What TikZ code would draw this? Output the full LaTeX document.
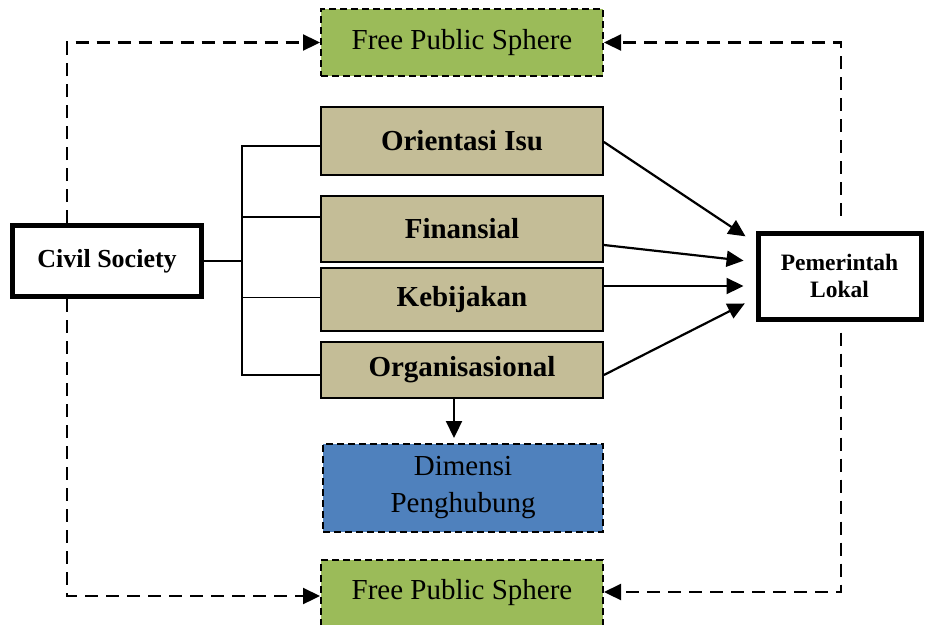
\documentclass[tikz,border=0pt]{standalone}
\usepackage{fontspec}
\setmainfont{Liberation Serif}
\usepackage{tikz}
\usetikzlibrary{arrows.meta}
\definecolor{spheregreen}{RGB}{155, 187, 89}
\definecolor{dimtan}{RGB}{196, 189, 151}
\definecolor{linkblue}{RGB}{79, 129, 189}
\tikzset{
	dimbox/.style={rectangle, fill=dimtan, draw=black, line width=1.8pt, minimum width=282pt, font=\fontsize{29}{33}\selectfont\bfseries},
	spherebox/.style={rectangle, fill=spheregreen, draw=black, line width=2pt, dash pattern=on 7pt off 4pt, minimum width=282pt, font=\fontsize{29}{33}\selectfont},
	actorbox/.style={rectangle, fill=white, draw=black, line width=5pt},
	arrowline/.style={-{Triangle[length=17pt, width=16pt]}, line width=2.2pt},
	dashlink/.style={-{Triangle[length=17pt, width=16pt]}, line width=2.3pt, dash pattern=on 13pt off 8pt}
}

\begin{document}
\begin{tikzpicture}[x=1pt, y=-1pt]
					\useasboundingbox (0,0) rectangle (925,624);
					\node[spherebox, minimum height=67pt] (sphTop) at (462,42.5) {Free Public Sphere};
					\node[dimbox, minimum height=68pt] (isu) at (462,141) {Orientasi Isu};
					\node[dimbox, minimum height=66pt] (dana) at (462,229) {Finansial};
					\node[dimbox, minimum height=63pt] (kebijakan) at (462,299.5) {Kebijakan};
					\node[dimbox, minimum height=56pt] (organisasi) at (462,370) {Organisasional};
					\node[spherebox, fill=linkblue, minimum width=280pt, minimum height=88pt, align=center, font=\fontsize{29}{37}\selectfont] (dimensi) at (463,488) {Dimensi\\Penghubung};
					\node[spherebox, anchor=north, text height=31pt, text depth=45pt, inner ysep=8pt] (sphBot) at (462,559) {Free Public Sphere};
					\node[actorbox, minimum width=189pt, minimum height=71pt, font=\fontsize{26}{30}\selectfont\bfseries] (civil) at (107,261) {Civil Society};
					\node[actorbox, minimum width=163pt, minimum height=86pt, align=center, font=\fontsize{23.5}{27}\selectfont\bfseries] (pemda) at (839.5,276) {Pemerintah\\Lokal};
					\coordinate (fork) at (242,261);
					\draw[line width=1.6pt] (civil.east) -- (fork);
					\foreach \nd/\dy in {isu/-5, dana/12, kebijakan/2, organisasi/-5} {
						\draw[line width=1.6pt] (fork) |- ([yshift=\dy pt]\nd.west);
					}
					\foreach \nd/\sy/\ty in {isu/-1/33, dana/-16/14, kebijakan/13.5/-10, organisasi/-5/-22} {
						\draw[arrowline, shorten >=12pt] ([yshift=\sy pt]\nd.east) -- ([yshift=\ty pt]pemda.west);
					}
					\draw[arrowline, shorten >=5pt] ([xshift=-8pt]organisasi.south) -- ([xshift=-9pt]dimensi.north);
					\draw[dashlink] ([xshift=-40pt]civil.north) |- (sphTop.west);
					\draw[dashlink, shorten <=15pt] ([xshift=1.5pt]pemda.north) |- (sphTop.east);
					\draw[dashlink] ([xshift=-40pt]civil.south) |- ([yshift=10pt]sphBot.west);
					\draw[dashlink, shorten <=11pt] ([xshift=1.5pt]pemda.south) |- ([yshift=14pt]sphBot.east);
				\end{tikzpicture}
\end{document}
